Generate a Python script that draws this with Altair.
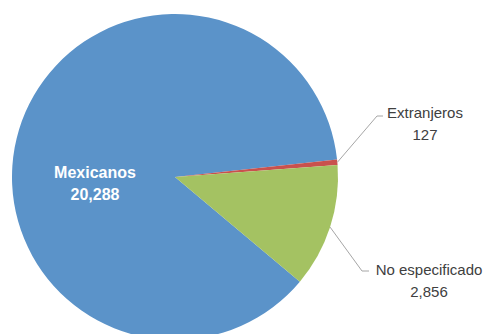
import math
import altair as alt
import pandas as pd

# --- data ---
categories = ["Mexicanos", "Extranjeros", "No especificado"]
values = [20288, 127, 2856]
value_labels = ["20,288", "127", "2,856"]
colors = ["#5b93c9", "#c9514d", "#a4c262"]

# --- layout (pixels within the view) ---
CX, CY, R = 167, 169, 163
START_DEG = 130.0  # clockwise from 12 o'clock where first slice begins

total = sum(values)
start = math.radians(START_DEG)

pie_df = pd.DataFrame({
    "cat": categories,
    "value": values,
    "order": list(range(len(categories))),
})

# mid-angles of slices computed from the data
mids = []
acc = 0.0
for v in values:
    a0 = START_DEG + 360 * acc / total
    acc += v
    a1 = START_DEG + 360 * acc / total
    mids.append(math.radians((a0 + a1) / 2))

def edge(a, r=R):
    return CX + r * math.sin(a), CY - r * math.cos(a)

# label anchors (first text line position)
label_pos = {
    "Mexicanos": (87, 165),
    "Extranjeros": (417, 105),
    "No especificado": (421, 262),
}
elbow = {
    "Extranjeros": [(369, 108), (375, 108)],
    "No especificado": [(354, 263), (361, 263)],
}

line_rows = []
for i, c in enumerate(categories):
    if c in elbow:
        sx, sy = edge(mids[i])
        pts = [(sx, sy)] + elbow[c]
        for k, (px, py) in enumerate(pts):
            line_rows.append({"cat": c, "k": k, "x": px, "y": py})
lines_df = pd.DataFrame(line_rows)

text_df = pd.DataFrame({
    "cat": categories,
    "txt": [f"{c}\n{l}" for c, l in zip(categories, value_labels)],
    "x": [label_pos[c][0] for c in categories],
    "y": [label_pos[c][1] for c in categories],
})

pie = alt.Chart(pie_df).mark_arc(radius=R, stroke=None).encode(
    theta=alt.Theta("value:Q", stack=True,
                    scale=alt.Scale(range=[start, start + 2 * math.pi])),
    order=alt.Order("order:Q"),
    color=alt.Color("cat:N", scale=alt.Scale(domain=categories, range=colors), legend=None),
    x=alt.value(CX),
    y=alt.value(CY),
)

leaders = alt.Chart(lines_df).mark_line(color="#a6a6a6", strokeWidth=1).encode(
    x=alt.X("x:Q", scale=None),
    y=alt.Y("y:Q", scale=None),
    detail="cat:N",
    order="k:Q",
)

inner = alt.Chart(text_df[text_df.cat == "Mexicanos"]).mark_text(
    lineBreak="\n", font="Liberation Sans", fontSize=16, fontWeight="bold",
    color="white", lineHeight=22, baseline="middle", align="center",
).encode(x=alt.X("x:Q", scale=None), y=alt.Y("y:Q", scale=None), text="txt:N")

outer = alt.Chart(text_df[text_df.cat != "Mexicanos"]).mark_text(
    lineBreak="\n", font="Liberation Sans", fontSize=15,
    color="#404040", lineHeight=22, baseline="middle", align="center",
).encode(x=alt.X("x:Q", scale=None), y=alt.Y("y:Q", scale=None), text="txt:N")

chart = alt.layer(pie, leaders, inner, outer).properties(
    width=475, height=340, padding=0,
    autosize=alt.AutoSizeParams(type="none"),
).configure_view(stroke=None)

chart.save("out.html", embed_options={"renderer": "svg", "actions": False})
